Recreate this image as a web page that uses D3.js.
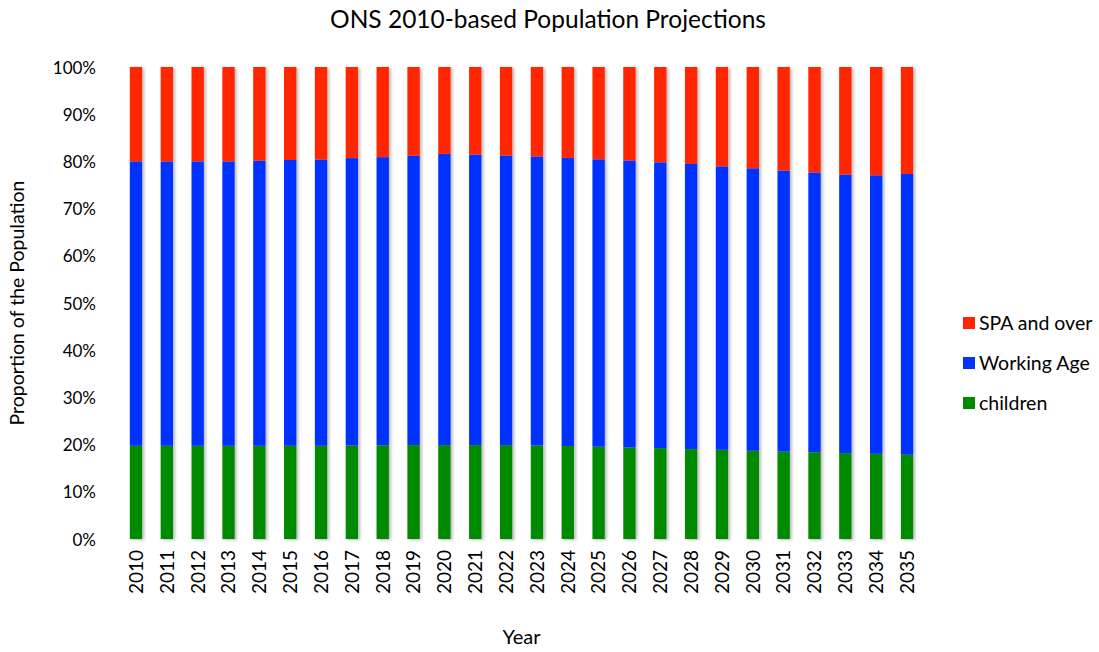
<!DOCTYPE html>
<html>
<head>
<meta charset="utf-8">
<script src="https://cdn.jsdelivr.net/npm/d3@7"></script>
<style>
  body { margin: 0; background: #fff; }
  svg text { font-family: Lato, "Open Sans", sans-serif; fill: #000; }
</style>
</head>
<body>
<div id="chart"></div>
<script>

var years = ['2010','2011','2012','2013','2014','2015','2016','2017','2018','2019','2020','2021','2022',
  '2023','2024','2025','2026','2027','2028','2029','2030','2031','2032','2033','2034','2035'];

// percentages
var children = [19.75, 19.75, 19.75, 19.75, 19.75, 19.75, 19.75, 19.8, 19.85, 19.9, 19.9, 19.9, 19.9,
  19.8, 19.7, 19.55, 19.4, 19.25, 19.05, 18.9, 18.7, 18.55, 18.35, 18.2, 18.05, 17.85];
var workingAge = [60.25, 60.25, 60.25, 60.25, 60.4, 60.55, 60.65, 60.9, 61.05, 61.3, 61.7, 61.55, 61.35,
  61.25, 61.05, 60.9, 60.8, 60.55, 60.4, 60.05, 59.85, 59.5, 59.3, 59.0, 59.0, 59.5];
var spaAndOver = [20.0, 20.0, 20.0, 20.0, 19.85, 19.7, 19.6, 19.3, 19.1, 18.8, 18.4, 18.55, 18.75,
  18.95, 19.25, 19.55, 19.8, 20.2, 20.55, 21.05, 21.45, 21.95, 22.35, 22.8, 22.95, 22.65];

var seriesNames = ['children', 'Working Age', 'SPA and over'];
var yTicks = [0, 10, 20, 30, 40, 50, 60, 70, 80, 90, 100];

var settings = {
  width: 1099, height: 652,
  left: 114.4, right: 1099 - 928.6, top: 67, bottom: 652 - 539,
  colors: ['#008a00', '#0433ff', '#ff2500']
};

var rows = years.map(function( y, i ) {
  return { year: y, 'children': children[i], 'Working Age': workingAge[i], 'SPA and over': spaAndOver[i] };
});

var stacked = d3.stack().keys( seriesNames )( rows );

var svg = d3.select('#chart').append('svg')
  .attr('width', settings.width)
  .attr('height', settings.height);

var defs = svg.append('defs');
defs.append('filter')
  .attr('id', 'shadow')
  .attr('x', '-50%').attr('y', '-10%').attr('width', '200%').attr('height', '120%')
  .append('feDropShadow')
  .attr('dx', 2).attr('dy', 1)
  .attr('stdDeviation', 1.5)
  .attr('flood-color', '#000')
  .attr('flood-opacity', 0.28);

var scaleX = d3.scaleBand()
  .domain( years )
  .range([ settings.left, settings.width - settings.right ])
  .paddingInner( 0.6 )
  .paddingOuter( 0.5 );

var scaleY = d3.scaleLinear()
  .domain([ 0, 100 ])
  .range([ settings.height - settings.bottom, settings.top ]);

var color = d3.scaleOrdinal().domain( seriesNames ).range( settings.colors );

// bars
var bars = svg.append('g').attr('filter', 'url(#shadow)');
bars.selectAll('g')
  .data( stacked )
  .enter()
  .append('g')
  .attr('fill', function( d ) { return color( d.key ) })
  .selectAll('rect')
  .data( function( d ) { return d })
  .enter()
  .append('rect')
  .attr('x', function( d ) { return scaleX( d.data.year ) })
  .attr('width', scaleX.bandwidth())
  .attr('y', function( d ) { return scaleY( d[1] ) })
  .attr('height', function( d ) { return scaleY( d[0] ) - scaleY( d[1] ) });

// y axis
var axisY = d3.axisLeft( scaleY )
  .tickValues( yTicks )
  .tickSize( 0 )
  .tickPadding( 0 )
  .tickFormat( function( d ) { return d + '%' });

var groupY = svg.append('g')
  .attr('transform', 'translate(96,0)')
  .call( axisY );
groupY.select('.domain').remove();
groupY.selectAll('.tick text')
  .attr('font-size', 17)
  .attr('dy', '0.36em');

// x axis
var axisX = d3.axisBottom( scaleX ).tickSize( 0 ).tickPadding( 0 );
var groupX = svg.append('g')
  .attr('transform', 'translate(0,' + ( settings.height - settings.bottom ) + ')')
  .call( axisX );
groupX.select('.domain').remove();
groupX.selectAll('.tick text')
  .attr('font-size', 19)
  .attr('text-anchor', 'end')
  .attr('transform', 'rotate(-90)')
  .attr('x', -11)
  .attr('y', 0)
  .attr('dy', '0.36em');

// titles
svg.append('text')
  .attr('x', 548)
  .attr('y', 28)
  .attr('text-anchor', 'middle')
  .attr('font-size', 24.5)
  .text('ONS 2010-based Population Projections');

svg.append('text')
  .attr('x', ( settings.left + settings.width - settings.right ) / 2)
  .attr('y', 644)
  .attr('text-anchor', 'middle')
  .attr('font-size', 20)
  .text('Year');

svg.append('text')
  .attr('transform', 'translate(24,' + ( ( settings.top + settings.height - settings.bottom ) / 2 ) + ') rotate(-90)')
  .attr('text-anchor', 'middle')
  .attr('font-size', 19.5)
  .text('Proportion of the Population');

// legend
var legendItems = seriesNames.slice().reverse();
var legend = svg.append('g')
  .selectAll('g')
  .data( legendItems )
  .enter()
  .append('g')
  .attr('transform', function( d, i ) { return 'translate(963,' + ( 323 + i * 40 ) + ')' });

legend.append('rect')
  .attr('x', 0).attr('y', -6)
  .attr('width', 12).attr('height', 12)
  .attr('fill', function( d ) { return color( d ) });

legend.append('text')
  .attr('x', 16)
  .attr('y', 0)
  .attr('dy', '0.36em')
  .attr('font-size', 19.5)
  .text( function( d ) { return d });

</script>
</body>
</html>
